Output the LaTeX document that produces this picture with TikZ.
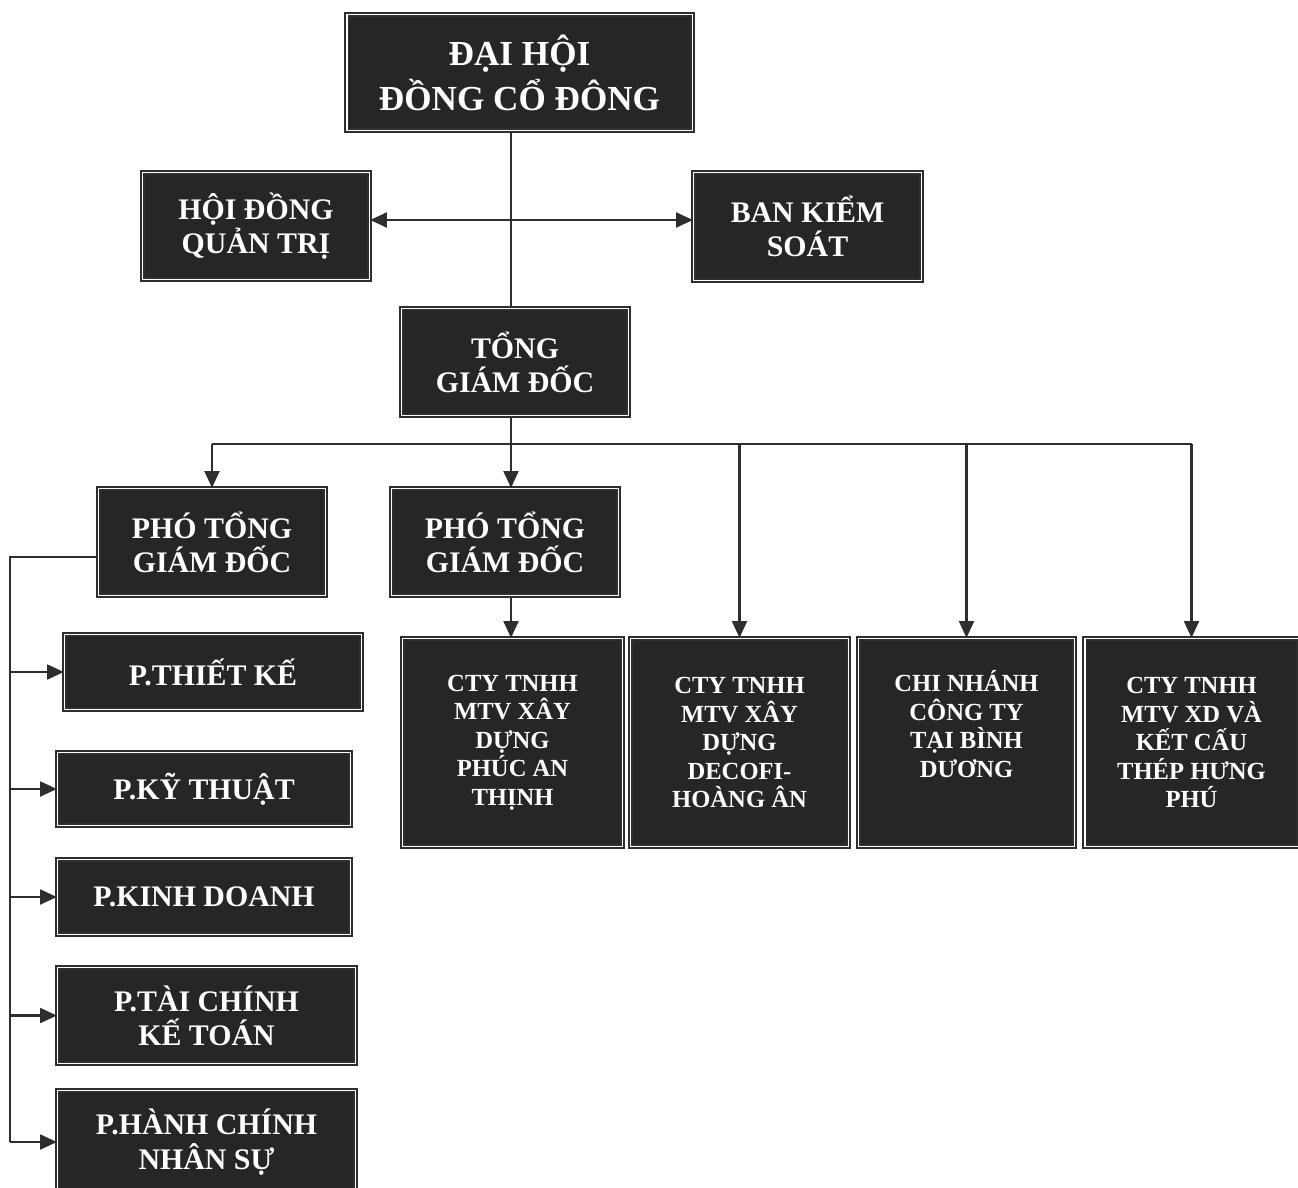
\documentclass[tikz,border=0pt]{standalone}
\usepackage{fontspec}
\setmainfont{Liberation Serif}
\usepackage{xcolor}
\usetikzlibrary{arrows.meta,
                positioning}
\definecolor{boxfill}{HTML}{262626}
\definecolor{linecol}{HTML}{2E2E2E}
\tikzstyle{arrow} = [line width=1.2pt,draw=linecol,-{Triangle[length=9.5pt,width=8.5pt]}]
\tikzstyle{dblarrow} = [line width=1.2pt,draw=linecol,{Triangle[length=9.5pt,width=8.5pt]}-{Triangle[length=9.5pt,width=8.5pt]}]
\tikzstyle{wire} = [line width=1.2pt,draw=linecol]
\tikzstyle{orgbox} = [rectangle,fill=boxfill,draw=linecol,line width=0.8pt,double=white,double distance=1.1pt,
                      text=white,align=center,inner sep=0pt,font=\bfseries\fontsize{17}{19.5}\selectfont]
\tikzstyle{topbox} = [orgbox,font=\bfseries\fontsize{20}{25.6}\selectfont]
\tikzstyle{unitbox} = [orgbox,font=\bfseries\fontsize{14}{16.2}\selectfont]

\begin{document}
\begin{tikzpicture}[x=0.02cm,y=-0.02cm]
        \useasboundingbox (0,0) rectangle (1298,1187);

        % top levels
        \node[topbox, minimum width=6.92cm, minimum height=2.32cm] (dhcd) at (519.5,72.5) {ĐẠI HỘI\\ĐỒNG CỔ ĐÔNG};
        \node[orgbox, minimum width=4.54cm, minimum height=2.14cm] (hdqt) at (256,226) {HỘI ĐỒNG\\QUẢN TRỊ};
        \node[orgbox, minimum width=4.56cm, minimum height=2.16cm] (bks) at (807.5,226.5) {BAN KIỂM\\SOÁT};
        \node[orgbox, minimum width=4.54cm, minimum height=2.14cm] (tgd) at (515,362) {TỔNG\\GIÁM ĐỐC};
        \node[orgbox, minimum width=4.54cm, minimum height=2.14cm] (ptgd1) at (212,542) {PHÓ TỔNG\\GIÁM ĐỐC};
        \node[orgbox, minimum width=4.54cm, minimum height=2.14cm] (ptgd2) at (505,542) {PHÓ TỔNG\\GIÁM ĐỐC};

        % member units
        \node[unitbox, minimum width=4.40cm, minimum height=4.16cm] (cty1) at (512.5,742.5) {CTY TNHH\\MTV XÂY\\DỰNG\\PHÚC AN\\THỊNH};
        \node[unitbox, minimum width=4.36cm, minimum height=4.16cm] (cty2) at (739.5,742.5) {CTY TNHH\\MTV XÂY\\DỰNG\\DECOFI-\\HOÀNG ÂN};
        \node[unitbox, minimum width=4.32cm, minimum height=4.16cm] (cn) at (966.5,742.5) {CHI NHÁNH\\CÔNG TY\\TẠI BÌNH\\DƯƠNG\\\strut};
        \node[unitbox, minimum width=4.28cm, minimum height=4.16cm] (cty3) at (1191.5,742.5) {CTY TNHH\\MTV XD VÀ\\KẾT CẤU\\THÉP HƯNG\\PHÚ};

        % departments
        \node[orgbox, minimum width=5.94cm, minimum height=1.50cm] (thk) at (213,672) {P.THIẾT KẾ};
        \node[orgbox, minimum width=5.86cm, minimum height=1.46cm] (kt) at (204,789) {P.KỸ THUẬT};
        \node[orgbox, minimum width=5.86cm, minimum height=1.50cm] (kd) at (204,897) {P.KINH DOANH};
        \node[orgbox, minimum width=5.96cm, minimum height=1.92cm] (tc) at (206.5,1015.5) {P.TÀI CHÍNH\\KẾ TOÁN};
        \node[orgbox, minimum width=5.96cm, minimum height=2.06cm] (hc) at (206.5,1142) {P.HÀNH CHÍNH\\NHÂN SỰ};

        \coordinate (trunk) at (511,220);
        \coordinate (bus) at (511,444);
        \coordinate (rail) at (10,557);

        \draw[wire] (dhcd.south -| trunk) -- (tgd.north -| trunk);
        \draw[dblarrow] (hdqt.east |- trunk) -- (bks.west |- trunk);
        \draw[arrow] (tgd.south -| trunk) -- (ptgd2.north -| trunk);
        \draw[wire] (ptgd1.north |- bus) -- (cty3.north |- bus);
        \draw[arrow] (ptgd1.north |- bus) -- (ptgd1.north);
        \draw[arrow] (cty2.north |- bus) -- (cty2.north);
        \draw[arrow] (cn.north |- bus) -- (cn.north);
        \draw[arrow] (cty3.north |- bus) -- (cty3.north);
        \draw[arrow] (ptgd2.south -| trunk) -- (cty1.north -| trunk);

        \draw[wire] (ptgd1.west |- rail) -- (rail) -- (rail |- hc.west);
        \draw[arrow] (rail |- thk.west) -- (thk.west);
        \draw[arrow] (rail |- kt.west) -- (kt.west);
        \draw[arrow] (rail |- kd.west) -- (kd.west);
        \draw[arrow] (rail |- tc.west) -- (tc.west);
        \draw[arrow] (rail |- hc.west) -- (hc.west);
    \end{tikzpicture}
\end{document}
